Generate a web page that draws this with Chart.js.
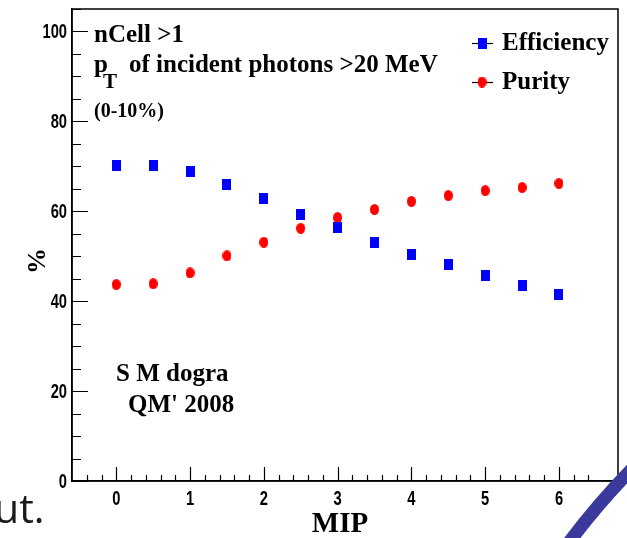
<!DOCTYPE html>
<html>
<head>
<meta charset="utf-8">
<script src="https://cdn.jsdelivr.net/npm/chart.js@4/dist/chart.umd.min.js"></script>
<style>
  html, body { margin: 0; padding: 0; background: #fff; overflow: hidden; }
  #wrap { position: relative; width: 627px; height: 538px; }
  canvas { display: block; }
</style>
</head>
<body>
<div id="wrap"><canvas id="c" width="627" height="538"></canvas></div>
<script>
// MIP threshold values (x) and the two measured curves in percent
const mip        = [0, 0.5, 1, 1.5, 2, 2.5, 3, 3.5, 4, 4.5, 5, 5.5, 6];
const efficiency = [70.1, 70.1, 68.9, 65.9, 62.8, 59.3, 56.3, 53.0, 50.4, 48.1, 45.7, 43.5, 41.5];
const purity     = [43.7, 43.9, 46.3, 50.1, 53.1, 56.2, 58.6, 60.4, 62.2, 63.5, 64.6, 65.3, 66.2];

const seriesLabels = ['Efficiency', 'Purity'];
const seriesColors = ['#0000ff', '#ff0000'];

const xTickValues = [0, 1, 2, 3, 4, 5, 6];
const yTickValues = [0, 20, 40, 60, 80, 100];
const xRange = [-0.6, 6.8];
const yRange = [0, 105];

const xTitle = 'MIP';
const yTitle = '%';
const cutLine1 = 'nCell >1';
const cutLine2 = ['p', 'T', 'of incident photons >20 MeV'];
const cutLine3 = '(0-10%)';
const credit = ['S M dogra', "QM' 2008"];
const slideText = 'ut.';

const SERIF = '"Liberation Serif", "Times New Roman", serif';
const TICKFONT = 'bold 21px "Liberation Sans", Arial, sans-serif';

function rectMarker(w, h, color) {
  const c = document.createElement('canvas');
  c.width = w; c.height = h;
  const g = c.getContext('2d');
  g.fillStyle = color;
  g.fillRect(0, 0, w, h);
  return c;
}
function ellipseMarker(w, h, color) {
  const c = document.createElement('canvas');
  c.width = w; c.height = h;
  const g = c.getContext('2d');
  g.fillStyle = color;
  g.beginPath();
  g.ellipse(w / 2, h / 2, w / 2, h / 2, 0, 0, Math.PI * 2);
  g.fill();
  return c;
}
const markers = [rectMarker(9, 11, seriesColors[0]), ellipseMarker(9, 11, seriesColors[1])];

function toPoints(ys) { return mip.map((x, i) => ({ x: x, y: ys[i] })); }

// condensed bold label, squeezed horizontally around its anchor
function narrowText(ctx, text, x, y, align, baseline) {
  ctx.save();
  ctx.translate(x, y);
  ctx.scale(0.7, 1);
  ctx.font = TICKFONT;
  ctx.textAlign = align;
  ctx.textBaseline = baseline;
  ctx.fillText(text, 0, 0);
  ctx.restore();
}

// ROOT-style frame: box around the pad, inward ticks, labels, titles, text and legend
const padDecor = {
  id: 'padDecor',
  afterDraw(chart) {
    const ctx = chart.ctx;
    const a = chart.chartArea;
    const xs = chart.scales.x, ys = chart.scales.y;
    ctx.save();
    ctx.strokeStyle = '#000';
    ctx.lineWidth = 1.5;
    ctx.strokeRect(a.left, a.top, a.right - a.left, a.bottom - a.top);

    // inward tick marks
    ctx.lineWidth = 1.2;
    ctx.beginPath();
    for (let v = 0; v <= yRange[1] + 1e-6; v += 5) {
      const py = Math.round(ys.getPixelForValue(v)) + 0.5;
      const len = (v % 20 === 0) ? 16 : 9;
      ctx.moveTo(a.left, py); ctx.lineTo(a.left + len, py);
    }
    for (let k = -2; k <= 32; k++) {
      const v = k * 0.2;
      const px = Math.round(xs.getPixelForValue(v)) + 0.5;
      const len = (k % 5 === 0) ? 14 : 6;
      ctx.moveTo(px, a.bottom); ctx.lineTo(px, a.bottom - len);
    }
    ctx.stroke();

    // tick labels from the scales' own ticks
    ctx.fillStyle = '#000';
    ys.ticks.forEach(t => {
      narrowText(ctx, String(t.label), a.left - 5, ys.getPixelForValue(t.value) + 1, 'right', 'middle');
    });
    xs.ticks.forEach(t => {
      narrowText(ctx, String(t.label), xs.getPixelForValue(t.value), a.bottom + 8, 'center', 'top');
    });

    // axis titles
    ctx.font = 'bold 29px ' + SERIF;
    ctx.textAlign = 'center';
    ctx.textBaseline = 'alphabetic';
    ctx.fillText(xTitle, 340, 532);
    ctx.save();
    ctx.translate(45, 261);
    ctx.rotate(-Math.PI / 2);
    ctx.font = 'bold 26px ' + SERIF;
    ctx.fillText(yTitle, 0, 0);
    ctx.restore();

    // selection text
    ctx.textAlign = 'left';
    ctx.font = 'bold 25px ' + SERIF;
    ctx.fillText(cutLine1, 94, 42);
    ctx.fillText(cutLine2[0], 94, 72);
    ctx.font = 'bold 21px ' + SERIF;
    ctx.fillText(cutLine2[1], 103, 88);
    ctx.font = 'bold 25px ' + SERIF;
    ctx.fillText(cutLine2[2], 129, 72);
    ctx.font = 'bold 20px ' + SERIF;
    ctx.fillText(cutLine3, 94, 117);

    ctx.font = 'bold 25px ' + SERIF;
    ctx.fillText(credit[0], 116, 381);
    ctx.fillText(credit[1], 128, 412);

    // legend
    const rows = [43, 82];
    chart.data.datasets.forEach((ds, i) => {
      const y = rows[i];
      ctx.strokeStyle = '#000';
      ctx.lineWidth = 1.2;
      ctx.beginPath();
      ctx.moveTo(472, y + 0.5); ctx.lineTo(493, y + 0.5);
      ctx.stroke();
      const m = ds.pointStyle;
      ctx.drawImage(m, 482 - m.width / 2, y - m.height / 2);
      ctx.fillStyle = '#000';
      ctx.font = 'bold 25px ' + SERIF;
      ctx.textBaseline = 'middle';
      ctx.fillText(ds.label, 502, y + 1);
    });
    ctx.restore();

    // slide background pieces around the figure
    ctx.save();
    ctx.fillStyle = '#1a1a1a';
    ctx.font = '41px "Open Sans", "Noto Sans", sans-serif';
    ctx.textBaseline = 'alphabetic';
    ctx.textAlign = 'left';
    ctx.fillText(slideText, -6, 523);
    ctx.strokeStyle = '#3a3a9c';
    ctx.lineWidth = 13;
    ctx.beginPath();
    ctx.arc(1151, 978, 727, Math.PI * 1.05, Math.PI * 1.35);
    ctx.stroke();
    ctx.restore();
  }
};

new Chart(document.getElementById('c'), {
  type: 'scatter',
  data: {
    datasets: [
      { label: seriesLabels[0], data: toPoints(efficiency), pointStyle: markers[0],
        backgroundColor: seriesColors[0], borderColor: seriesColors[0], showLine: false },
      { label: seriesLabels[1], data: toPoints(purity), pointStyle: markers[1],
        backgroundColor: seriesColors[1], borderColor: seriesColors[1], showLine: false }
    ]
  },
  options: {
    responsive: false,
    animation: false,
    layout: { padding: { left: 0, right: 9, top: 9, bottom: 0 } },
    plugins: { legend: { display: false }, tooltip: { enabled: false } },
    scales: {
      x: {
        type: 'linear', min: xRange[0], max: xRange[1],
        grid: { display: false, drawTicks: false },
        border: { display: true, color: '#000', width: 1.5 },
        ticks: { display: false },
        afterBuildTicks: s => { s.ticks = xTickValues.map(v => ({ value: v })); },
        afterFit: s => { s.height = 57; }
      },
      y: {
        type: 'linear', min: yRange[0], max: yRange[1],
        grid: { display: false, drawTicks: false },
        border: { display: true, color: '#000', width: 1.5 },
        ticks: { display: false },
        afterBuildTicks: s => { s.ticks = yTickValues.map(v => ({ value: v })); },
        afterFit: s => { s.width = 72; }
      }
    }
  },
  plugins: [padDecor]
});
</script>
</body>
</html>
